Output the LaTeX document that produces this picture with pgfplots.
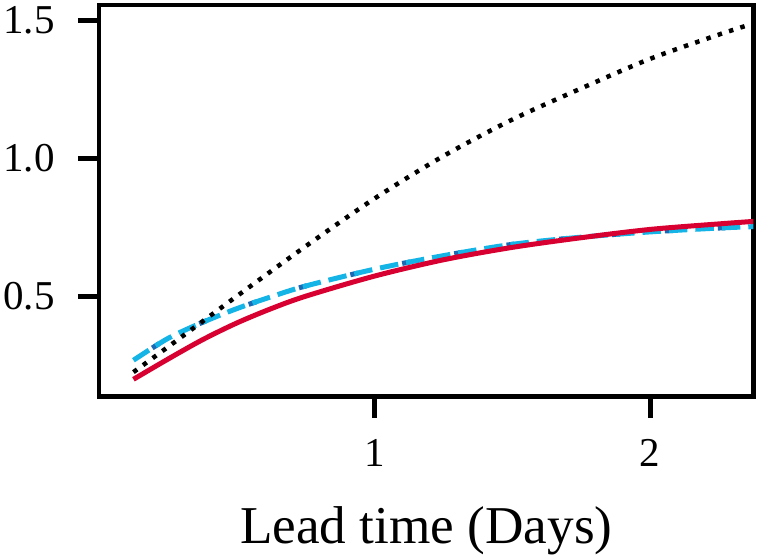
\documentclass[border=0pt]{standalone}
\usepackage{pgfplots}
\pgfplotsset{compat=1.18}
\usepackage{fontspec}
\setmainfont{Liberation Serif}
\definecolor{cred}{RGB}{215,0,48}
\definecolor{ccyan}{RGB}{20,180,230}
\definecolor{cblue}{RGB}{25,105,180}
\begin{document}
\begin{tikzpicture}
\useasboundingbox (-49.5pt,-79.15pt) rectangle (331pt,198.35pt);
\begin{axis}[
  at={(0pt,0pt)}, anchor=south west,
  scale only axis, width=327.25pt, height=195.85pt,
  xmin=0, xmax=2.375, ymin=0.136, ymax=1.555,
  xtick={1,2}, ytick={0.5,1.0,1.5},
  tick pos=left, tick align=outside,
  major tick length=10.5pt,
  every tick/.style={line width=2.4pt, black},
  axis line style={line width=2.35pt},
  /pgf/number format/assume math mode=true,
  tick label style={font=\fontsize{20.5}{24}\selectfont, inner sep=0pt},
  xticklabel style={yshift=-10.8pt},
  yticklabel style={xshift=-11.5pt, /pgf/number format/.cd, fixed, fixed zerofill, precision=1},
  xlabel={Lead time (Days)},
  xlabel style={font=\fontsize{26.6}{32}\selectfont, at={(axis description cs:0.5,0)}, anchor=base, inner sep=0pt, yshift=-73.6pt},
]
\addplot[cblue, line width=2.5pt, dash pattern=on 4pt off 22.5pt, dash phase=15.25pt, smooth] coordinates {
(0.125,0.268) (0.25,0.347) (0.375,0.405) (0.5,0.455) (0.625,0.498) (0.75,0.537) (1.0,0.598) (1.25,0.647) (1.5,0.688) (1.75,0.714) (2.0,0.733) (2.25,0.747) (2.375,0.752)};
\addplot[ccyan, line width=2.5pt, dash pattern=on 9.25pt off 4pt, smooth] coordinates {
(0.125,0.268) (0.25,0.347) (0.375,0.405) (0.5,0.455) (0.625,0.498) (0.75,0.537) (1.0,0.598) (1.25,0.647) (1.5,0.688) (1.75,0.714) (2.0,0.733) (2.25,0.747) (2.375,0.752)};
\addplot[cred, line width=2.5pt, smooth] coordinates {
(0.125,0.199) (0.25,0.272) (0.375,0.342) (0.5,0.403) (0.625,0.455) (0.75,0.500) (1.0,0.573) (1.25,0.632) (1.5,0.677) (1.75,0.712) (2.0,0.742) (2.25,0.762) (2.375,0.771)};
\addplot[black, line width=2.25pt, dash pattern=on 2.25pt off 3.7pt, smooth] coordinates {
(0.125,0.225) (0.25,0.316) (0.5,0.500) (0.75,0.681) (1.0,0.854) (1.25,1.008) (1.5,1.140) (1.75,1.253) (2.0,1.360) (2.25,1.448) (2.375,1.488)};
\end{axis}
\end{tikzpicture}
\end{document}
